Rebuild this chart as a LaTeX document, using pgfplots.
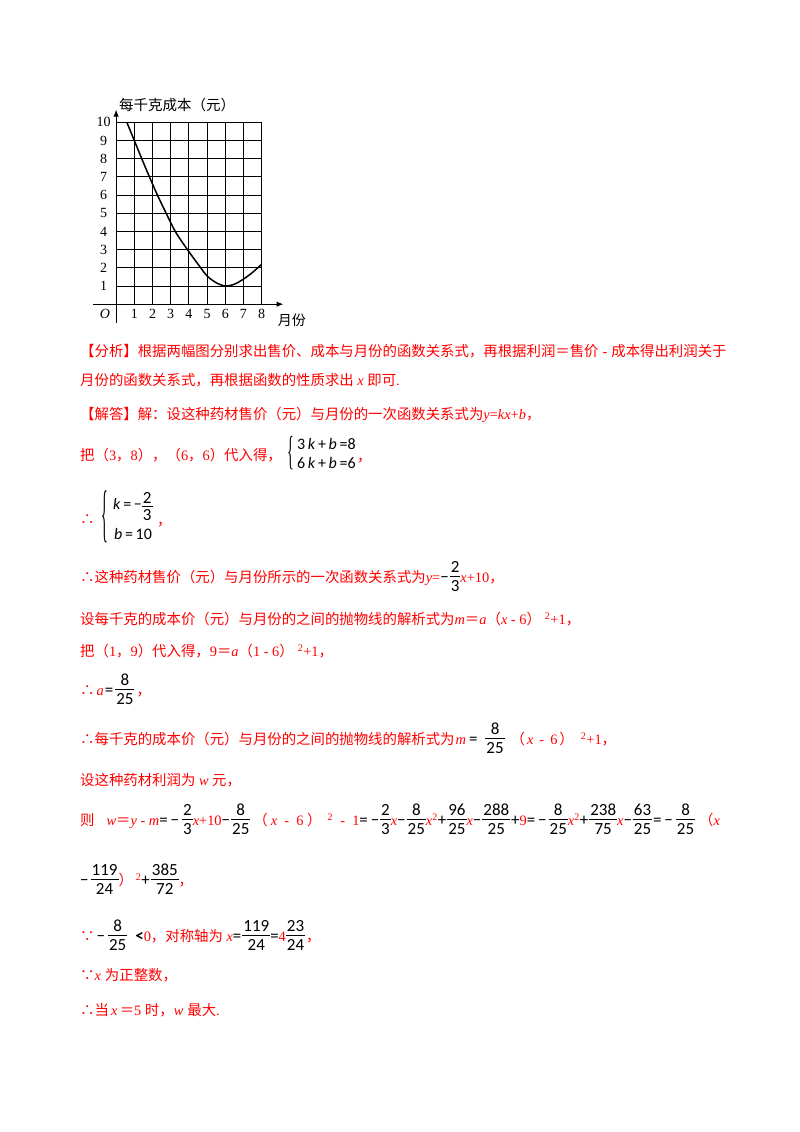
\documentclass[border=0pt]{standalone}
\usepackage{graphicx}
\usepackage{pgfplots}
\pgfplotsset{compat=1.18}
\usetikzlibrary{arrows.meta}
\usepackage{fontspec}
\setmainfont{Noto Sans CJK SC}
\newfontfamily\tm{Liberation Serif}
\newfontfamily\cbr{Carlito}
\definecolor{rr}{RGB}{255,0,0}
\newcommand\mi[1]{{\tm\itshape #1}}
\newcommand\mt[1]{{\tm #1}}
\newcommand\mb[1]{{\color{black}\cbr\fontsize{17}{17}\selectfont #1}}
\newcommand\body{\fontsize{14.4}{17}\selectfont}
\newcommand\frx[5]{{\color{black}\raisebox{-#1}{\cbr\fontsize{17}{17}\selectfont\setlength\arrayrulewidth{0.6pt}\begin{tabular}[b]{@{\hspace{1pt}}c@{\hspace{1pt}}}#4\\[#2]\hline\rule{0pt}{#3}#5\end{tabular}}}}
\newcommand\fr[2]{\frx{9.35pt}{-0.9pt}{14.85pt}{#1}{#2}}
\begin{document}
\begin{tikzpicture}
\path[use as bounding box] (0pt,0pt) rectangle (800pt,-1132pt);
\begin{axis}[
  at={(116.1pt,-304.2pt)}, anchor=south west,
  scale only axis, width=145.6pt, height=181.9pt,
  xmin=0,xmax=8,ymin=0,ymax=10,
  clip=false,
  axis line style={draw=none},
  xtick={1,...,8}, ytick={1,...,10},
  grid=major, major grid style={black, line width=1pt},
  major tick length=0pt,
  tick label style={font=\tm\fontsize{14}{14}\selectfont},
  /pgf/number format/assume math mode=true,
  xticklabel style={anchor=center, yshift=-10pt},
  yticklabel style={anchor=center, xshift=-12.5pt},
]
\draw[line width=1.1pt,-{Latex[length=7pt,width=5.5pt]}] (axis cs:-1.27,0) -- (axis cs:9.2,0);
\draw[line width=1.1pt,-{Latex[length=7pt,width=5.5pt]}] (axis cs:0,-1.03) -- (axis cs:0,10.7);
\addplot[black, line width=1.5pt, smooth, tension=0.5] coordinates {(0.59,10)(1,9)(1.41,8)(1.83,7)(2.27,6)(2.75,5)(3.25,4)(3.92,3)(4.65,2)(5,1.55)(5.5,1.18)(6,1)(6.5,1.1)(7,1.38)(7.5,1.75)(8,2.2)};
\node[anchor=center, font=\tm\itshape\fontsize{14}{14}\selectfont] at (axis cs:-0.61,-0.54) {O};
\node[anchor=west, inner sep=0, font=\fontsize{14.5}{14.5}\selectfont] at (axis cs:0.15,10.95) {每千克成本（元）};
\node[anchor=center, inner sep=0, font=\fontsize{14}{14}\selectfont] at (axis cs:9.66,-0.87) {月份};
\end{axis}
\tikzset{tl/.style={anchor=base west, inner sep=0, text=rr, font=\body}}
\node[tl] at (80pt,-356.5pt) {【分析】根据两幅图分别求出售价、成本与月份的函数关系式，再根据利润＝售价\hspace{4pt}\mt{-}\hspace{4pt}成本得出利润关于};
\node[tl] at (80pt,-385.5pt) {月份的函数关系式，再根据函数的性质求出\mi{\ x\ }即可\mt{.}};
\node[tl] at (80pt,-419.5pt) {【解答】解：设这种药材售价（元）与月份的一次函数关系式为\mi{y}\mt{=}\mi{kx}\mt{+}\mi{b}，};
\node[tl] at (80pt,-460.5pt) {把（\mt{3}，\mt{8}），（\mt{6}，\mt{6}）代入得，};
\node[anchor=center, inner sep=0] at (291pt,-453.5pt) {\scalebox{1}[2.9]{\tm\fontsize{14}{14}\selectfont\{}};
\node[anchor=west, inner sep=0, font=\cbr\fontsize{16}{16}\selectfont] at (297pt,-444pt) {3\,\textit{k}\,+\,\textit{b}\,=8};
\node[anchor=west, inner sep=0, font=\cbr\fontsize{16}{16}\selectfont] at (297pt,-463pt) {6\,\textit{k}\,+\,\textit{b}\,=6};
\node[tl] at (357pt,-461pt) {，};
\node[tl] at (80pt,-524.5pt) {∴};
\node[anchor=center, inner sep=0] at (105pt,-516.5pt) {\scalebox{1}[4.5]{\tm\fontsize{14}{14}\selectfont\{}};
\node[anchor=base west, inner sep=0, font=\cbr\fontsize{16}{16}\selectfont] at (113pt,-509pt) {\textit{k}\,=\,−\frx{11.35pt}{-2.45pt}{13.35pt}{2}{3}};
\node[tl] at (157pt,-525pt) {，};
\node[anchor=base west, inner sep=0, font=\cbr\fontsize{16}{16}\selectfont] at (114pt,-539pt) {\textit{b}\,=\,10};
\node[tl] at (80pt,-582.5pt) {∴这种药材售价（元）与月份所示的一次函数关系式为\mi{y}\mt{=}\mb{−}\hspace{1pt}\fr{2}{3}\mi{x}\mt{+10}，};
\node[tl] at (80pt,-624.5pt) {设每千克的成本价（元）与月份的之间的抛物线的解析式为\mi{m}＝\mi{a}（\mi{x}\mt{\ -\ 6}）\hspace{4pt}\mt{\textsuperscript{2}+1}，};
\node[tl] at (80pt,-656.5pt) {把（\mt{1}，\mt{9}）代入得，\mt{9}＝\mi{a}（\mt{1\ -\ 6}）\hspace{4pt}\mt{\textsuperscript{2}+1}，};
\node[tl] at (80pt,-695.5pt) {∴\hspace{2pt}\mi{a}\hspace{1pt}\mb{=}\hspace{2pt}\fr{8}{25}\hspace{2pt}，};
\node[tl] at (80pt,-744.5pt) {∴每千克的成本价（元）与月份的之间的抛物线的解析式为\hspace{1pt}\mi{m}\hspace{3pt}\mb{=}\hspace{8pt}\fr{8}{25}\hspace{6pt}（\hspace{2pt}\mi{x}\mt{\ \,-\ \,6}\hspace{2pt}）\hspace{7pt}\mt{\textsuperscript{2}+1}，};
\node[tl] at (80pt,-785.5pt) {设这种药材利润为\mi{\ w\ }元，};
\node[tl] at (80pt,-825.5pt) {则\hspace{12pt}\mi{w}＝\mi{y}\mt{\ -\ }\mi{m}\mb{=\,−}\hspace{3pt}\fr{2}{3}\mi{x}\mt{+10}\mb{−}\hspace{1pt}\fr{8}{25}\hspace{3pt}（\hspace{3pt}\mi{x}\mt{\ \ -\ \ 6\ }）\hspace{6pt}\mt{\textsuperscript{2}\ \ -\ \ 1}\mb{=\,−}\hspace{1pt}\fr{2}{3}\mi{x}\mb{−}\hspace{1pt}\fr{8}{25}\mi{x}\mt{\textsuperscript{2}}\mb{+}\hspace{1pt}\fr{96}{25}\mi{x}\mb{−}\hspace{1pt}\fr{288}{25}\hspace{1pt}\mb{+}\mt{9}\mb{=\,−}\hspace{2pt}\fr{8}{25}\mi{x}\mt{\textsuperscript{2}}\mb{+}\hspace{1pt}\fr{238}{75}\mi{x}\mb{−}\hspace{1pt}\fr{63}{25}\hspace{1pt}\mb{=\,−}\hspace{3pt}\fr{8}{25}\hspace{4pt}（\mi{x}};
\node[tl] at (80pt,-885.5pt) {\mb{−}\hspace{2pt}\fr{119}{24}）\hspace{3pt}\mt{\textsuperscript{2}}\mb{+}\hspace{1pt}\fr{385}{72}，};
\node[tl] at (80pt,-941.5pt) {∵\hspace{2pt}\mb{−}\hspace{3pt}\fr{8}{25}\hspace{8pt}\mb{\bfseries <}\mt{0}，对称轴为\mi{\ x}\mb{=}\hspace{1pt}\fr{119}{24}\mb{=}\mt{4}\fr{23}{24}\hspace{1pt}，};
\node[tl] at (80pt,-980.5pt) {∵\mi{x}\hspace{4pt}为正整数，};
\node[tl] at (80pt,-1015.5pt) {∴当\hspace{2pt}\mi{x\,}＝\mt{5\ }时，\mi{w}\hspace{4pt}最大\mt{.}};
\end{tikzpicture}
\end{document}
